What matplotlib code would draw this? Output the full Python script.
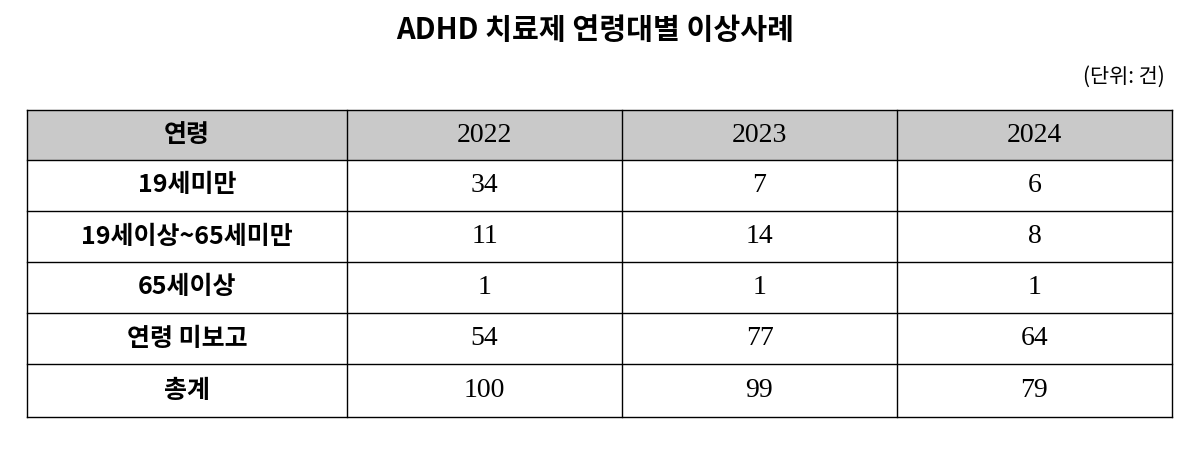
import matplotlib.pyplot as plt
from matplotlib.patches import Rectangle

title = "ADHD 치료제 연령대별 이상사례"
unit = "(단위: 건)"
header = "연령"
years = ["2022", "2023", "2024"]
ages = ["19세미만", "19세이상~65세미만", "65세이상", "연령 미보고", "총계"]
v2022 = [34, 11, 1, 54, 100]
v2023 = [7, 14, 1, 77, 99]
v2024 = [6, 8, 1, 64, 79]

kr = "Noto Sans CJK KR"
serif = "Liberation Serif"

fig = plt.figure(figsize=(12, 4.63), dpi=100)
ax = fig.add_axes([0, 0, 1, 1])
ax.set_xlim(0, 1200)
ax.set_ylim(463, 0)
ax.axis("off")

ax.text(595, 30, title, ha="center", va="center", fontsize=21, fontweight="bold", family=kr)
ax.text(1165, 77, unit, ha="right", va="center", fontsize=15, family=kr)

cols = [27, 347, 622, 897, 1172]
rows = [110, 160, 211, 262, 313, 364, 417]

ax.add_patch(Rectangle((cols[0], rows[0]), cols[-1] - cols[0], rows[1] - rows[0],
                       facecolor="#c9c9c9", edgecolor="none"))
for x in cols:
    ax.plot([x, x], [rows[0], rows[-1]], color="black", lw=1)
for y in rows:
    ax.plot([cols[0], cols[-1]], [y, y], color="black", lw=1)

def cx(i):
    return (cols[i] + cols[i + 1]) / 2

def cy(j):
    return (rows[j] + rows[j + 1]) / 2

ax.text(cx(0), cy(0), header, ha="center", va="center", fontsize=18, fontweight="bold", family=kr)
for i, yr in enumerate(years):
    ax.text(cx(i + 1), cy(0), yr, ha="center", va="center", fontsize=20, family=serif)

for j, (a, *vals) in enumerate(zip(ages, v2022, v2023, v2024)):
    ax.text(cx(0), cy(j + 1), a, ha="center", va="center", fontsize=18, fontweight="bold", family=kr)
    for i, v in enumerate(vals):
        ax.text(cx(i + 1), cy(j + 1), str(v), ha="center", va="center", fontsize=20, family=serif)

fig.savefig("out.png", dpi=100, facecolor="white")
